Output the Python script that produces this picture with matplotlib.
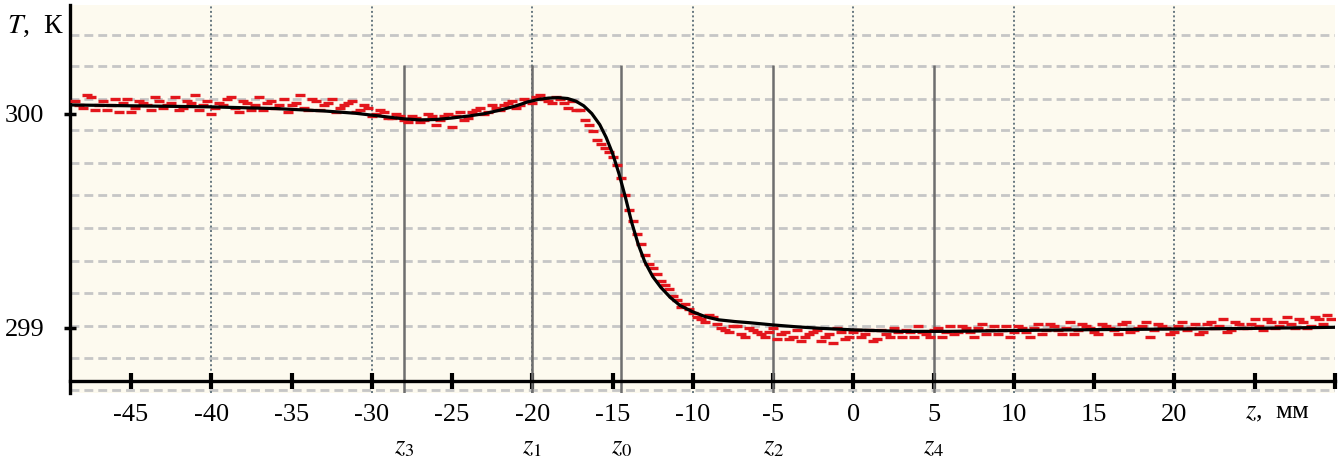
import matplotlib.pyplot as plt
from matplotlib.transforms import blended_transform_factory

# smoothed temperature profile (black line), z in mm, T in K
curve_z = [-48.8, -45, -40, -36, -33, -31, -29.5, -28, -27, -26, -25, -24, -23, -22,
           -21, -20.3, -19.6, -19, -18.4, -17.8, -17.3, -16.8, -16.3, -15.8, -15.4,
           -15.0, -14.6, -14.2, -13.8, -13.4, -13.0, -12.5, -12.0, -11.4, -10.8, -10.0,
           -9.2, -8.4, -7.4, -6.4, -5.0, -3.5, -2.0, 0, 3, 6, 10, 15, 20, 25, 30]
curve_T = [300.042, 300.038, 300.033, 300.025, 300.014, 300.003, 299.990, 299.977,
           299.972, 299.974, 299.981, 299.990, 300.001, 300.018, 300.038, 300.056,
           300.068, 300.074, 300.076, 300.072, 300.060, 300.038, 300.002, 299.950,
           299.890, 299.815, 299.720, 299.610, 299.490, 299.390, 299.310, 299.240,
           299.190, 299.142, 299.105, 299.075, 299.052, 299.038, 299.030, 299.024,
           299.014, 299.005, 298.998, 298.991, 298.984, 298.984, 298.988, 298.992,
           298.995, 298.998, 299.003]

# measured points (red), first scan
meas_z = [-48.5, -48.0, -47.5, -47.0, -46.5, -46.0, -45.5, -45.0, -44.5, -44.0,
          -43.5, -43.0, -42.5, -42.0, -41.5, -41.0, -40.5, -40.0, -39.5, -39.0,
          -38.5, -38.0, -37.5, -37.0, -36.5, -36.0, -35.5, -35.0, -34.5, -34.0,
          -33.5, -33.0, -32.5, -32.0, -31.5, -31.0, -30.5, -30.0, -29.5, -29.0,
          -28.5, -28.0, -27.5, -27.0, -26.5, -26.0, -25.5, -25.0, -24.5, -24.0,
          -23.5, -23.0, -22.5, -22.0, -21.5, -21.0, -20.5, -20.0, -19.5, -19.0,
          -18.5, -18.0, -17.5, -17.0, -16.5, -16.0, -15.5, -15.0, -14.5, -14.0,
          -13.5, -13.0, -12.5, -12.0, -11.5, -11.0, -10.5, -10.0, -9.5, -9.0,
          -8.5, -8.0, -7.5, -7.0, -6.5, -6.0, -5.5, -5.0, -4.5, -4.0,
          -3.5, -3.0, -2.5, -2.0, -1.5, -1.0, -0.5, 0.0, 0.5, 1.0,
          1.5, 2.0, 2.5, 3.0, 3.5, 4.0, 4.5, 5.0, 5.5, 6.0,
          6.5, 7.0, 7.5, 8.0, 8.5, 9.0, 9.5, 10.0, 10.5, 11.0,
          11.5, 12.0, 12.5, 13.0, 13.5, 14.0, 14.5, 15.0, 15.5, 16.0,
          16.5, 17.0, 17.5, 18.0, 18.5, 19.0, 19.5, 20.0, 20.5, 21.0,
          21.5, 22.0, 22.5, 23.0, 23.5, 24.0, 24.5, 25.0, 25.5, 26.0,
          26.5, 27.0, 27.5, 28.0, 28.5, 29.0, 29.5]
meas_T = [300.06, 300.03, 300.08, 300.04, 300.02, 300.07, 300.05, 300.01, 300.06, 300.04,
          300.08, 300.03, 300.05, 300.02, 300.06, 300.09, 300.04, 300.00, 300.05, 300.07,
          300.03, 300.06, 300.02, 300.08, 300.05, 300.03, 300.07, 300.04, 300.09, 300.02,
          300.06, 300.04, 300.07, 300.03, 300.05, 300.01, 300.04, 299.99, 300.02, 299.98,
          300.00, 299.97, 299.99, 299.96, 300.00, 299.95, 299.99, 299.94, 300.01, 299.98,
          300.02, 300.00, 300.04, 300.02, 300.05, 300.03, 300.07, 300.05, 300.09, 300.06,
          300.08, 300.05, 300.06, 300.02, 299.95, 299.88, 299.84, 299.80, 299.70, 299.55,
          299.44, 299.34, 299.28, 299.22, 299.18, 299.13, 299.11, 299.07, 299.04, 299.06,
          299.02, 298.99, 299.01, 298.97, 299.00, 298.98, 298.96, 299.00, 298.97, 298.95,
          298.99, 298.96, 298.98, 298.94, 298.97, 299.00, 298.95, 298.98, 298.96, 298.99,
          298.95, 298.97, 299.00, 298.96, 298.98, 299.01, 298.97, 298.99, 298.96, 299.01,
          298.98, 299.00, 298.96, 299.02, 298.99, 298.97, 299.01, 298.98, 299.00, 298.96,
          299.02, 298.99, 299.01, 298.97, 299.03, 298.99, 299.01, 298.98, 299.02, 299.00,
          298.97, 299.03, 298.99, 299.01, 298.96, 299.02, 299.00, 298.98, 299.03, 299.00,
          298.97, 299.02, 299.00, 299.04, 298.99, 299.02, 299.00, 299.04, 298.99, 299.03,
          299.01, 299.05, 299.00, 299.03, 299.01, 299.04, 299.06]

# measured points (red), second scan
meas2_z = [-48.25, -47.75, -47.25, -46.75, -46.25, -45.75, -45.25, -44.75, -44.25, -43.75,
           -43.25, -42.75, -42.25, -41.75, -41.25, -40.75, -40.25, -39.75, -39.25, -38.75,
           -38.25, -37.75, -37.25, -36.75, -36.25, -35.75, -35.25, -34.75, -34.25, -33.75,
           -33.25, -32.75, -32.25, -31.75, -31.25, -30.75, -30.25, -29.75, -29.25, -28.75,
           -28.25, -27.75, -27.25, -26.75, -26.25, -25.75, -25.25, -24.75, -24.25, -23.75,
           -23.25, -22.75, -22.25, -21.75, -21.25, -20.75, -20.25, -19.75, -19.25, -18.75,
           -18.25, -17.75, -17.25, -16.75, -16.25, -15.75, -15.25, -14.75, -14.25, -13.75,
           -13.25, -12.75, -12.25, -11.75, -11.25, -10.75, -10.25, -9.75, -9.25, -8.75,
           -8.25, -7.75, -7.25, -6.75, -6.25, -5.75, -5.25, -4.75, -4.25, -3.75,
           -3.25, -2.75, -2.25, -1.75, -1.25, -0.75, -0.25, 0.25, 0.75, 1.25,
           1.75, 2.25, 2.75, 3.25, 3.75, 4.25, 4.75, 5.25, 5.75, 6.25,
           6.75, 7.25, 7.75, 8.25, 8.75, 9.25, 9.75, 10.25, 10.75, 11.25,
           11.75, 12.25, 12.75, 13.25, 13.75, 14.25, 14.75, 15.25, 15.75, 16.25,
           16.75, 17.25, 17.75, 18.25, 18.75, 19.25, 19.75, 20.25, 20.75, 21.25,
           21.75, 22.25, 22.75, 23.25, 23.75, 24.25, 24.75, 25.25, 25.75, 26.25,
           26.75, 27.25, 27.75, 28.25, 28.75, 29.25, 29.75]
meas2_T = [300.04, 300.09, 300.02, 300.06, 300.04, 300.01, 300.07, 300.03, 300.05, 300.02,
           300.06, 300.04, 300.08, 300.03, 300.05, 300.02, 300.06, 300.03, 300.04, 300.08,
           300.01, 300.05, 300.04, 300.02, 300.06, 300.04, 300.01, 300.05, 300.03, 300.07,
           300.02, 300.05, 300.01, 300.04, 300.06, 300.02, 300.03, 300.00, 300.01, 299.98,
           299.99, 299.96, 299.98, 299.97, 299.99, 299.97, 300.00, 299.99, 299.97, 300.01,
           300.03, 300.01, 300.03, 300.04, 300.06, 300.04, 300.06, 300.08, 300.07, 300.05,
           300.07, 300.03, 300.02, 299.97, 299.92, 299.86, 299.82, 299.76, 299.62, 299.50,
           299.39, 299.30, 299.25, 299.20, 299.15, 299.10, 299.09, 299.05, 299.03, 299.05,
           299.00, 298.98, 299.01, 298.96, 298.99, 298.97, 298.98, 298.95, 298.98, 298.96,
           298.94, 298.97, 298.99, 298.96, 298.93, 298.98, 298.96, 298.99, 298.97, 298.94,
           298.99, 298.96, 298.98, 298.99, 298.96, 298.98, 298.96, 299.00, 298.98, 298.97,
           299.01, 298.98, 299.00, 298.97, 299.01, 298.99, 298.96, 299.01, 298.98, 299.00,
           298.97, 299.02, 298.99, 299.00, 298.97, 299.02, 299.00, 298.97, 299.01, 298.99,
           299.02, 298.98, 299.00, 299.03, 298.99, 299.01, 298.97, 299.01, 298.99, 299.02,
           298.98, 299.03, 299.01, 298.98, 299.03, 299.00, 299.02, 299.01, 299.04, 299.00,
           299.03, 299.02, 299.04, 299.00, 299.05, 299.02, 299.04]

# characteristic cross-sections
mark_z = [-28, -20, -14.45, -5, 5]
mark_labels = [r'$z_3$', r'$z_1$', r'$z_0$', r'$z_2$', r'$z_4$']

x_ticks = [-45, -40, -35, -30, -25, -20, -15, -10, -5, 0, 5, 10, 15, 20, 25, 30]
x_ticklabels = ['-45', '-40', '-35', '-30', '-25', '-20', '-15', '-10', '-5', '0',
                '5', '10', '15', '20', '', '']
y_ticks = [299, 300]
y_ticklabels = ['299', '300']

plt.rcParams['font.family'] = ['Liberation Serif', 'DejaVu Serif']
plt.rcParams['mathtext.fontset'] = 'stix'

W, H = 1343, 462
fig = plt.figure(figsize=(W / 100, H / 100), dpi=100)
ax = fig.add_axes([70 / W, 1 - 393 / H, (1335 - 70) / W, 388 / H])
ax.set_facecolor('#fdfaef')
ax.set_xlim(-48.8, 30.0)
ax.set_ylim(298.696, 300.509)

# background grid
for t in [300.369, 300.224, 300.070, 299.925, 299.771, 299.621, 299.467,
          299.313, 299.164, 299.009, 298.860, 298.710]:
    ax.axhline(t, color='#c6c6c6', lw=2, ls=(0, (3.2, 1.8)), zorder=1)
for v in [-40, -30, -20, -10, 0, 10, 20]:
    ax.axvline(v, color='#66777f', lw=1.4, ls=(0, (1, 1.3)), zorder=1)

ax.vlines(mark_z, 298.696, 300.229, color='#6e6e6e', lw=1.8, zorder=2)

ax.plot(meas_z, meas_T, ls='none', marker='_', ms=6.5, mew=2.4, color='#e3161c', zorder=3)
ax.plot(meas2_z, meas2_T, ls='none', marker='_', ms=6.5, mew=2.4, color='#e3161c', zorder=3)
ax.plot(curve_z, curve_T, color='black', lw=2.3, zorder=4)

ax.spines['top'].set_visible(False)
ax.spines['right'].set_visible(False)
ax.spines['bottom'].set_position(('data', 298.752))
ax.spines['bottom'].set_linewidth(2.4)
ax.spines['left'].set_linewidth(2.4)

ax.set_xticks(x_ticks)
ax.set_xticklabels(x_ticklabels)
ax.set_yticks(y_ticks)
ax.set_yticklabels(y_ticklabels)
ax.tick_params(axis='x', direction='inout', length=11, width=3, pad=11, labelsize=19)
ax.tick_params(axis='y', direction='inout', length=9, width=2.5, pad=14, labelsize=19)

trans = blended_transform_factory(ax.transData, ax.transAxes)
for zm, lab in zip(mark_z, mark_labels):
    ax.text(zm, -0.142, lab, transform=trans, ha='center', va='center', fontsize=19)

fig.text(7 / W, 1 - 26 / H, r'$T$,  К', ha='left', va='center', fontsize=20)
fig.text(1277 / W, 1 - 413 / H, r'$z$,  мм', ha='center', va='center', fontsize=19)

fig.savefig('out.png', dpi=100)
